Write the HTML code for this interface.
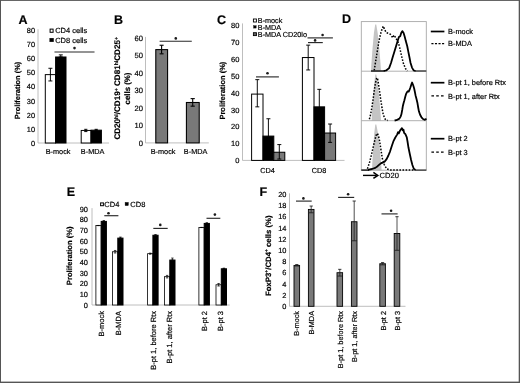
<!DOCTYPE html>
<html><head><meta charset="utf-8"><title>Figure</title>
<style>
html,body{margin:0;padding:0;background:#fff;}
body{width:520px;height:383px;overflow:hidden;font-family:"Liberation Sans", sans-serif;}
svg{display:block;font-family:"Liberation Sans", sans-serif;text-rendering:geometricPrecision;}
text{stroke:#000;stroke-width:0.18px;fill:#000;}
</style></head><body>
<svg width="520" height="383" viewBox="0 0 520 383">
<defs><filter id="soft" x="0" y="0" width="520" height="383" filterUnits="userSpaceOnUse"><feGaussianBlur stdDeviation="0.4"/></filter></defs>
<rect x="0" y="0" width="520" height="383" fill="#fff"/>
<g filter="url(#soft)">
<text x="22.9" y="23.98" font-size="12.5" text-anchor="middle" font-weight="bold" fill="#000">A</text>
<line x1="38" y1="29.200000000000003" x2="38" y2="143" stroke="#adadad" stroke-width="0.8" />
<line x1="38" y1="143" x2="109" y2="143" stroke="#adadad" stroke-width="0.8" />
<text x="35.0" y="145.85" font-size="7.4" text-anchor="end" fill="#111">0</text>
<text x="35.0" y="131.75" font-size="7.4" text-anchor="end" fill="#111">10</text>
<text x="35.0" y="117.65" font-size="7.4" text-anchor="end" fill="#111">20</text>
<text x="35.0" y="103.55" font-size="7.4" text-anchor="end" fill="#111">30</text>
<text x="35.0" y="89.45" font-size="7.4" text-anchor="end" fill="#111">40</text>
<text x="35.0" y="75.35" font-size="7.4" text-anchor="end" fill="#111">50</text>
<text x="35.0" y="61.25" font-size="7.4" text-anchor="end" fill="#111">60</text>
<text x="35.0" y="47.15" font-size="7.4" text-anchor="end" fill="#111">70</text>
<text x="35.0" y="33.05" font-size="7.4" text-anchor="end" fill="#111">80</text>
<text x="20.47" y="90.5" font-size="7.45" text-anchor="middle" font-weight="bold" transform="rotate(-90 20.47 90.5)" fill="#000">Proliferation (%)</text>
<rect x="50.1" y="29.1" width="3" height="3.2" fill="#fff" stroke="#000" stroke-width="1"/>
<text x="55.2" y="33.38" font-size="7.5" text-anchor="start" fill="#111">CD4 cells</text>
<rect x="49.8" y="38.2" width="3.8" height="3.6" fill="#000" stroke="#000" stroke-width="0.4"/>
<text x="55.2" y="42.59" font-size="7.5" text-anchor="start" fill="#111">CD8 cells</text>
<line x1="54.5" y1="52.0" x2="94.5" y2="52.0" stroke="#2a2a2a" stroke-width="1.15" />
<circle cx="74.5" cy="48.1" r="1.3" fill="#1a1a1a"/>
<rect x="45.3" y="74.61" width="10.3" height="68.39" fill="#fff" stroke="#000" stroke-width="1.0"/>
<line x1="50.4" y1="68.27000000000001" x2="50.4" y2="80.96000000000001" stroke="#000" stroke-width="0.95" />
<line x1="48.4" y1="68.27000000000001" x2="52.4" y2="68.27000000000001" stroke="#000" stroke-width="0.95" />
<line x1="48.4" y1="80.96000000000001" x2="52.4" y2="80.96000000000001" stroke="#000" stroke-width="0.95" />
<rect x="55.6" y="56.99" width="10.4" height="86.01" fill="#000" stroke="#000" stroke-width="1.0"/>
<line x1="60.8" y1="54.875" x2="60.8" y2="56.989999999999995" stroke="#000" stroke-width="0.95" />
<line x1="58.8" y1="54.875" x2="62.8" y2="54.875" stroke="#000" stroke-width="0.95" />
<line x1="58.8" y1="56.989999999999995" x2="62.8" y2="56.989999999999995" stroke="#000" stroke-width="0.95" />
<rect x="81.2" y="130.45" width="9.8" height="12.55" fill="#fff" stroke="#000" stroke-width="1.0"/>
<line x1="85.8" y1="129.323" x2="85.8" y2="131.579" stroke="#000" stroke-width="0.95" />
<line x1="84.2" y1="129.323" x2="87.39999999999999" y2="129.323" stroke="#000" stroke-width="0.95" />
<line x1="84.2" y1="131.579" x2="87.39999999999999" y2="131.579" stroke="#000" stroke-width="0.95" />
<rect x="91" y="130.17" width="10.4" height="12.83" fill="#000" stroke="#000" stroke-width="1.0"/>
<line x1="96.2" y1="129.323" x2="96.2" y2="130.31" stroke="#000" stroke-width="0.95" />
<line x1="94.60000000000001" y1="129.323" x2="97.8" y2="129.323" stroke="#000" stroke-width="0.95" />
<line x1="94.60000000000001" y1="130.31" x2="97.8" y2="130.31" stroke="#000" stroke-width="0.95" />
<text x="58.1" y="154.31" font-size="7.3" text-anchor="middle" fill="#111">B-mock</text>
<text x="92.6" y="154.31" font-size="7.3" text-anchor="middle" fill="#111">B-MDA</text>
<text x="118.4" y="23.58" font-size="12.5" text-anchor="middle" font-weight="bold" fill="#000">B</text>
<line x1="145.5" y1="36.900000000000006" x2="145.5" y2="142.9" stroke="#adadad" stroke-width="0.8" />
<line x1="145.5" y1="142.9" x2="208.8" y2="142.9" stroke="#adadad" stroke-width="0.8" />
<text x="142.9" y="145.62" font-size="7.6" text-anchor="end" fill="#111">0</text>
<text x="142.9" y="128.12" font-size="7.6" text-anchor="end" fill="#111">10</text>
<text x="142.9" y="110.62" font-size="7.6" text-anchor="end" fill="#111">20</text>
<text x="142.9" y="93.12" font-size="7.6" text-anchor="end" fill="#111">30</text>
<text x="142.9" y="75.62" font-size="7.6" text-anchor="end" fill="#111">40</text>
<text x="142.9" y="58.12" font-size="7.6" text-anchor="end" fill="#111">50</text>
<text x="142.9" y="40.62" font-size="7.6" text-anchor="end" fill="#111">60</text>
<text x="120.3" y="88.3" font-size="8.1" text-anchor="middle" font-weight="bold" transform="rotate(-90 120.3 88.3)" fill="#000">CD20<tspan font-size="5.2" dy="-2.8">hi</tspan><tspan dy="2.8" font-size="8.1">/CD19</tspan><tspan font-size="5.2" dy="-2.8">+</tspan><tspan dy="2.8" font-size="8.1"> CD81</tspan><tspan font-size="5.2" dy="-2.8">hi</tspan><tspan dy="2.8" font-size="8.1">CD25</tspan><tspan font-size="5.2" dy="-2.8">+</tspan></text>
<text x="130.23" y="88.5" font-size="7.9" text-anchor="middle" font-weight="bold" transform="rotate(-90 130.23 88.5)" fill="#000">cells (%)</text>
<rect x="155.8" y="49.62" width="11.8" height="93.28" fill="#797979" stroke="#000" stroke-width="1.05"/>
<line x1="161.6" y1="45.25" x2="161.6" y2="53.825" stroke="#000" stroke-width="1.1" />
<line x1="159.6" y1="45.25" x2="163.6" y2="45.25" stroke="#000" stroke-width="1.1" />
<line x1="159.6" y1="53.825" x2="163.6" y2="53.825" stroke="#000" stroke-width="1.1" />
<rect x="186.4" y="102.48" width="12.8" height="40.42" fill="#797979" stroke="#000" stroke-width="1.05"/>
<line x1="192.7" y1="98.625" x2="192.7" y2="106.15" stroke="#000" stroke-width="1.1" />
<line x1="190.6" y1="98.625" x2="194.79999999999998" y2="98.625" stroke="#000" stroke-width="1.1" />
<line x1="190.6" y1="106.15" x2="194.79999999999998" y2="106.15" stroke="#000" stroke-width="1.1" />
<line x1="159.6" y1="41.2" x2="191.8" y2="41.2" stroke="#2a2a2a" stroke-width="1.15" />
<circle cx="175.8" cy="38.4" r="1.3" fill="#1a1a1a"/>
<text x="163.1" y="153.91" font-size="7.3" text-anchor="middle" fill="#111">B-mock</text>
<text x="195.6" y="153.91" font-size="7.3" text-anchor="middle" fill="#111">B-MDA</text>
<text x="221.4" y="24.48" font-size="12.5" text-anchor="middle" font-weight="bold" fill="#000">C</text>
<line x1="242.5" y1="23.400000000000006" x2="242.5" y2="160.4" stroke="#adadad" stroke-width="0.8" />
<line x1="242.5" y1="160.4" x2="344.5" y2="160.4" stroke="#adadad" stroke-width="0.8" />
<text x="239.4" y="163.09" font-size="7.5" text-anchor="end" fill="#111">0</text>
<text x="239.4" y="146.24" font-size="7.5" text-anchor="end" fill="#111">10</text>
<text x="239.4" y="129.38" font-size="7.5" text-anchor="end" fill="#111">20</text>
<text x="239.4" y="112.53" font-size="7.5" text-anchor="end" fill="#111">30</text>
<text x="239.4" y="95.69" font-size="7.5" text-anchor="end" fill="#111">40</text>
<text x="239.4" y="78.84" font-size="7.5" text-anchor="end" fill="#111">50</text>
<text x="239.4" y="61.98" font-size="7.5" text-anchor="end" fill="#111">60</text>
<text x="239.4" y="45.13" font-size="7.5" text-anchor="end" fill="#111">70</text>
<text x="239.4" y="28.28" font-size="7.5" text-anchor="end" fill="#111">80</text>
<text x="225.38" y="90.6" font-size="7.5" text-anchor="middle" font-weight="bold" transform="rotate(-90 225.38 90.6)" fill="#000">Proliferation (%)</text>
<rect x="253.4" y="19.0" width="3" height="3" fill="#fff" stroke="#000" stroke-width="0.9"/>
<text x="257.8" y="23.1" font-size="7.25" text-anchor="start" fill="#111">B-mock</text>
<rect x="253.5" y="25.6" width="2.7" height="2.5" fill="#000" stroke="#000" stroke-width="0.3"/>
<text x="257.8" y="29.5" font-size="7.25" text-anchor="start" fill="#111">B-MDA</text>
<rect x="253.4" y="32.7" width="3" height="2.9" fill="#666" stroke="#000" stroke-width="0.9"/>
<text x="257.8" y="36.9" font-size="7.25" text-anchor="start" fill="#111">B-MDA CD20lo</text>
<rect x="251.6" y="94.1" width="11.4" height="66.3" fill="#fff" stroke="#000" stroke-width="1.0"/>
<line x1="257.3" y1="79.65" x2="257.3" y2="106.85000000000001" stroke="#000" stroke-width="0.95" />
<line x1="255.3" y1="79.65" x2="259.3" y2="79.65" stroke="#000" stroke-width="0.95" />
<line x1="255.3" y1="106.85000000000001" x2="259.3" y2="106.85000000000001" stroke="#000" stroke-width="0.95" />
<rect x="263" y="136.09" width="10.8" height="24.31" fill="#000" stroke="#000" stroke-width="1.0"/>
<line x1="268.4" y1="118.75" x2="268.4" y2="152.75" stroke="#000" stroke-width="0.95" />
<line x1="266.4" y1="118.75" x2="270.4" y2="118.75" stroke="#000" stroke-width="0.95" />
<line x1="266.4" y1="152.75" x2="270.4" y2="152.75" stroke="#000" stroke-width="0.95" />
<rect x="273.8" y="152.24" width="11.0" height="8.16" fill="#797979" stroke="#000" stroke-width="1.0"/>
<line x1="279.3" y1="144.59" x2="279.3" y2="159.04" stroke="#000" stroke-width="0.95" />
<line x1="277.3" y1="144.59" x2="281.3" y2="144.59" stroke="#000" stroke-width="0.95" />
<line x1="277.3" y1="159.04" x2="281.3" y2="159.04" stroke="#000" stroke-width="0.95" />
<rect x="302.4" y="57.55" width="11.6" height="102.85" fill="#fff" stroke="#000" stroke-width="1.0"/>
<line x1="308.2" y1="45.140000000000015" x2="308.2" y2="69.96" stroke="#000" stroke-width="0.95" />
<line x1="306.2" y1="45.140000000000015" x2="310.2" y2="45.140000000000015" stroke="#000" stroke-width="0.95" />
<line x1="306.2" y1="69.96" x2="310.2" y2="69.96" stroke="#000" stroke-width="0.95" />
<rect x="314" y="106.85" width="10.6" height="53.55" fill="#000" stroke="#000" stroke-width="1.0"/>
<line x1="319.3" y1="89.34000000000002" x2="319.3" y2="123.85000000000001" stroke="#000" stroke-width="0.95" />
<line x1="317.3" y1="89.34000000000002" x2="321.3" y2="89.34000000000002" stroke="#000" stroke-width="0.95" />
<line x1="317.3" y1="123.85000000000001" x2="321.3" y2="123.85000000000001" stroke="#000" stroke-width="0.95" />
<rect x="324.6" y="133.03" width="11.0" height="27.37" fill="#797979" stroke="#000" stroke-width="1.0"/>
<line x1="330.1" y1="124.02000000000001" x2="330.1" y2="142.38" stroke="#000" stroke-width="0.95" />
<line x1="328.1" y1="124.02000000000001" x2="332.1" y2="124.02000000000001" stroke="#000" stroke-width="0.95" />
<line x1="328.1" y1="142.38" x2="332.1" y2="142.38" stroke="#000" stroke-width="0.95" />
<line x1="256.0" y1="76.9" x2="278.9" y2="76.9" stroke="#2a2a2a" stroke-width="1.15" />
<circle cx="267.5" cy="73.2" r="1.3" fill="#1a1a1a"/>
<line x1="307.5" y1="37.9" x2="332.9" y2="37.9" stroke="#2a2a2a" stroke-width="1.15" />
<circle cx="322.6" cy="35.0" r="1.3" fill="#1a1a1a"/>
<line x1="308.0" y1="42.6" x2="322.8" y2="42.6" stroke="#2a2a2a" stroke-width="1.15" />
<circle cx="315.1" cy="40.4" r="1.3" fill="#1a1a1a"/>
<text x="267.6" y="172.91" font-size="7.3" text-anchor="middle" fill="#111">CD4</text>
<text x="319.0" y="172.91" font-size="7.3" text-anchor="middle" fill="#111">CD8</text>
<text x="346.6" y="23.38" font-size="12.5" text-anchor="middle" font-weight="bold" fill="#000">D</text>
<polygon points="371.0,71.2 371.38,64.21 372.5,48.83 373.91,32.99 375.23,24.6 376.23,24.6 377.71,32.99 379.3,48.83 380.58,64.21 381.0,71.2" fill="#c4c4c4"/>
<polygon points="371.6,120.7 371.94,113.78 372.94,98.57 374.2,82.9 375.38,74.6 376.32,74.6 377.78,82.9 379.34,98.57 380.58,113.78 381.0,120.7" fill="#c4c4c4"/>
<polygon points="372.0,170.2 372.3,163.36 373.18,148.31 374.29,132.81 375.33,124.6 376.29,124.6 377.94,132.81 379.71,148.31 381.13,163.36 381.6,170.2" fill="#c4c4c4"/>
<rect x="361.3" y="21.6" width="65.0" height="148.6" fill="none" stroke="#a8a8a8" stroke-width="0.9"/>
<line x1="361.3" y1="71.2" x2="426.3" y2="71.2" stroke="#a8a8a8" stroke-width="0.9" />
<line x1="361.3" y1="120.7" x2="426.3" y2="120.7" stroke="#a8a8a8" stroke-width="0.9" />
<path d="M374.2 70.4 L375.7 61.1 L377.3 51.1 L379.1 40.3 L381.1 31.9 L382.5 28 L383.3 26.2 L384.9 30.2 L386.3 32.6 L388.3 33.3 L390.3 34.2 L391.6 36 L392.7 37.8 L393.6 36 L394.4 35.2 L395.2 37 L395.8 38.6 L397.4 40.2 L399.4 46.3 L401.4 55.3 L403.4 63.4 L405.4 68.4 L407.4 71" fill="none" stroke="#000" stroke-width="1.5" stroke-linejoin="round" stroke-dasharray="1.6 1.5"/>
<line x1="371" y1="71" x2="384.5" y2="71" stroke="#1e1e1e" stroke-width="1.5" />
<line x1="414.8" y1="71" x2="426.3" y2="71" stroke="#333" stroke-width="1.3" />
<path d="M383.7 71 L386.5 70.3 L389.1 68.1 L391 63 L392.6 57.5 L394.6 51 L396.5 44.8 L397.8 40.6 L398.9 37 L400.2 36.2 L401.2 33 L402.3 31.1 L403.6 33 L404.8 37 L405.8 41.1 L407.2 46 L408.2 51.1 L409.4 57 L410.5 62.7 L412 67.6 L413.6 70.4 L415.5 71" fill="none" stroke="#000" stroke-width="1.8" stroke-linejoin="round"/>
<path d="M369.4 119.2 L370.6 114.5 L371.8 108 L373 100 L374.2 91 L375.4 83.5 L376.4 79 L376.9 77.8 L377.6 79 L378.5 84 L379.6 91.5 L380.8 100 L382 108 L383.2 114 L384.6 118.4 L386.2 120.2 L387.6 120.4" fill="none" stroke="#000" stroke-width="1.5" stroke-linejoin="round" stroke-dasharray="1.6 1.5"/>
<path d="M394.6 120.5 L396.4 120.2 L399.4 118.6 L400.6 116.6 L401.4 114.3 L402.2 110 L402.8 106.3 L403.6 103 L404.4 100.2 L405.2 97 L406 94.2 L407 92.2 L408 91.2 L408.7 91.6 L409.4 90.2 L410.2 88 L410.8 86.2 L411.5 84 L412.1 82.5 L413.1 85 L414.1 88.2 L414.8 91.5 L415.5 95.2 L416.5 99 L417.5 103.3 L418.2 107.5 L418.9 111.3 L420.1 114.8 L421.5 117.3 L423 119 L424.5 119.8 L425.6 119.4 L426.3 118.4" fill="none" stroke="#000" stroke-width="1.8" stroke-linejoin="round"/>
<path d="M367.4 168.8 L369.4 163 L371.4 155 L373.2 147 L375 139.5 L376.4 134.6 L377.4 133.4 L378.5 136 L379.6 141 L381 150 L382.3 158.3 L384.2 164.5 L386.6 168.8 L390 170 L414 170" fill="none" stroke="#000" stroke-width="1.5" stroke-linejoin="round" stroke-dasharray="1.6 1.5"/>
<line x1="361.3" y1="170.1" x2="369" y2="170.1" stroke="#1e1e1e" stroke-width="1.5" />
<line x1="415" y1="170.1" x2="426.3" y2="170.1" stroke="#333" stroke-width="1.3" />
<path d="M368 169.9 L372 169 L375.3 167.9 L377.6 166.2 L379.6 164.4 L381.4 163 L383.1 162.6 L384.8 161.4 L386.6 159.1 L388.4 155.5 L390.1 151.3 L391.8 146 L393.6 140.8 L395.3 137.5 L397.1 134.6 L398 132.2 L398.8 133.4 L399.8 131.1 L400.8 129.5 L401.9 128.2 L402.8 130.4 L403.5 129.6 L404.1 132.9 L405.4 134.2 L406.8 137.3 L407.6 142 L408.5 147.8 L409.8 154 L411.1 160 L412.4 165 L413.8 168.8 L415.5 170" fill="none" stroke="#000" stroke-width="1.8" stroke-linejoin="round"/>
<line x1="430.8" y1="31.5" x2="444.4" y2="31.5" stroke="#000" stroke-width="1.7" />
<text x="448" y="34.15" font-size="7.4" text-anchor="start" fill="#111">B-mock</text>
<line x1="431.4" y1="43.7" x2="444.4" y2="43.7" stroke="#000" stroke-width="1.3" stroke-dasharray="2.1 1.45"/>
<text x="448" y="46.35" font-size="7.4" text-anchor="start" fill="#111">B-MDA</text>
<line x1="430.8" y1="82.7" x2="444.4" y2="82.7" stroke="#000" stroke-width="1.7" />
<text x="448" y="85.35" font-size="7.4" text-anchor="start" fill="#111">B-pt 1, before Rtx</text>
<line x1="431.4" y1="95.9" x2="444.4" y2="95.9" stroke="#000" stroke-width="1.3" stroke-dasharray="2.6 2.2"/>
<text x="448" y="98.55" font-size="7.4" text-anchor="start" fill="#111">B-pt 1, after Rtx</text>
<line x1="430.8" y1="138.7" x2="444.4" y2="138.7" stroke="#000" stroke-width="1.7" />
<text x="448" y="141.35" font-size="7.4" text-anchor="start" fill="#111">B-pt 2</text>
<line x1="431.4" y1="152.1" x2="444.4" y2="152.1" stroke="#000" stroke-width="1.3" stroke-dasharray="2.6 2.2"/>
<text x="448" y="154.75" font-size="7.4" text-anchor="start" fill="#111">B-pt 3</text>
<line x1="363" y1="175.4" x2="376.4" y2="175.4" stroke="#000" stroke-width="1.4" />
<path d="M373.4 172.4 L377.8 175.4 L373.4 178.4" fill="none" stroke="#000" stroke-width="1.5"/>
<text x="379.6" y="178.4" font-size="7.55" text-anchor="start" fill="#111">CD20</text>
<text x="71" y="196.38" font-size="12.5" text-anchor="middle" font-weight="bold" fill="#000">E</text>
<line x1="92" y1="208.14999999999998" x2="92" y2="305" stroke="#adadad" stroke-width="0.8" />
<line x1="92" y1="305" x2="229.7" y2="305" stroke="#adadad" stroke-width="0.8" />
<text x="87.9" y="307.65" font-size="7.4" text-anchor="end" fill="#111">0</text>
<text x="87.9" y="297.0" font-size="7.4" text-anchor="end" fill="#111">10</text>
<text x="87.9" y="286.35" font-size="7.4" text-anchor="end" fill="#111">20</text>
<text x="87.9" y="275.7" font-size="7.4" text-anchor="end" fill="#111">30</text>
<text x="87.9" y="265.05" font-size="7.4" text-anchor="end" fill="#111">40</text>
<text x="87.9" y="254.4" font-size="7.4" text-anchor="end" fill="#111">50</text>
<text x="87.9" y="243.75" font-size="7.4" text-anchor="end" fill="#111">60</text>
<text x="87.9" y="233.1" font-size="7.4" text-anchor="end" fill="#111">70</text>
<text x="87.9" y="222.45" font-size="7.4" text-anchor="end" fill="#111">80</text>
<text x="87.9" y="211.8" font-size="7.4" text-anchor="end" fill="#111">90</text>
<text x="72.12" y="255.8" font-size="7.6" text-anchor="middle" font-weight="bold" transform="rotate(-90 72.12 255.8)" fill="#000">Proliferation (%)</text>
<rect x="100.6" y="202.9" width="2.8" height="2.8" fill="#fff" stroke="#000" stroke-width="1"/>
<text x="104.3" y="207.38" font-size="7.5" text-anchor="start" fill="#111">CD4</text>
<rect x="125.1" y="202.4" width="3.2" height="3.2" fill="#000" stroke="#000" stroke-width="0.4"/>
<text x="130.3" y="207.38" font-size="7.5" text-anchor="start" fill="#111">CD8</text>
<rect x="95.9" y="225.55" width="5.3" height="79.45" fill="#fff" stroke="#000" stroke-width="0.8"/>
<line x1="98.5" y1="225.4445" x2="98.5" y2="225.6575" stroke="#000" stroke-width="0.7" />
<line x1="97.3" y1="225.4445" x2="99.7" y2="225.4445" stroke="#000" stroke-width="0.7" />
<line x1="97.3" y1="225.6575" x2="99.7" y2="225.6575" stroke="#000" stroke-width="0.7" />
<rect x="101.2" y="221.4" width="5.2" height="83.6" fill="#000" stroke="#000" stroke-width="1.0"/>
<line x1="103.8" y1="220.5455" x2="103.8" y2="221.3975" stroke="#000" stroke-width="0.7" />
<line x1="102.6" y1="220.5455" x2="105.0" y2="220.5455" stroke="#000" stroke-width="0.7" />
<line x1="102.6" y1="221.3975" x2="105.0" y2="221.3975" stroke="#000" stroke-width="0.7" />
<rect x="112.5" y="251.75" width="5.3" height="53.25" fill="#fff" stroke="#000" stroke-width="0.8"/>
<line x1="115.10000000000001" y1="250.47199999999998" x2="115.10000000000001" y2="253.028" stroke="#000" stroke-width="0.7" />
<line x1="113.9" y1="250.47199999999998" x2="116.30000000000001" y2="250.47199999999998" stroke="#000" stroke-width="0.7" />
<line x1="113.9" y1="253.028" x2="116.30000000000001" y2="253.028" stroke="#000" stroke-width="0.7" />
<rect x="117.8" y="238.12" width="5.2" height="66.88" fill="#000" stroke="#000" stroke-width="1.0"/>
<line x1="120.4" y1="237.053" x2="120.4" y2="238.118" stroke="#000" stroke-width="0.7" />
<line x1="119.2" y1="237.053" x2="121.60000000000001" y2="237.053" stroke="#000" stroke-width="0.7" />
<line x1="119.2" y1="238.118" x2="121.60000000000001" y2="238.118" stroke="#000" stroke-width="0.7" />
<rect x="147.6" y="253.67" width="5.3" height="51.33" fill="#fff" stroke="#000" stroke-width="0.8"/>
<line x1="150.2" y1="253.1345" x2="150.2" y2="254.1995" stroke="#000" stroke-width="0.7" />
<line x1="149.0" y1="253.1345" x2="151.39999999999998" y2="253.1345" stroke="#000" stroke-width="0.7" />
<line x1="149.0" y1="254.1995" x2="151.39999999999998" y2="254.1995" stroke="#000" stroke-width="0.7" />
<rect x="152.9" y="235.24" width="5.2" height="69.76" fill="#000" stroke="#000" stroke-width="1.0"/>
<line x1="155.5" y1="234.6035" x2="155.5" y2="235.2425" stroke="#000" stroke-width="0.7" />
<line x1="154.3" y1="234.6035" x2="156.7" y2="234.6035" stroke="#000" stroke-width="0.7" />
<line x1="154.3" y1="235.2425" x2="156.7" y2="235.2425" stroke="#000" stroke-width="0.7" />
<rect x="164.5" y="276.67" width="5.3" height="28.33" fill="#fff" stroke="#000" stroke-width="0.8"/>
<line x1="167.1" y1="275.39300000000003" x2="167.1" y2="277.949" stroke="#000" stroke-width="0.7" />
<line x1="165.9" y1="275.39300000000003" x2="168.29999999999998" y2="275.39300000000003" stroke="#000" stroke-width="0.7" />
<line x1="165.9" y1="277.949" x2="168.29999999999998" y2="277.949" stroke="#000" stroke-width="0.7" />
<rect x="169.8" y="260.06" width="5.2" height="44.94" fill="#000" stroke="#000" stroke-width="1.0"/>
<line x1="172.4" y1="258.0335" x2="172.4" y2="260.057" stroke="#000" stroke-width="0.7" />
<line x1="171.20000000000002" y1="258.0335" x2="173.6" y2="258.0335" stroke="#000" stroke-width="0.7" />
<line x1="171.20000000000002" y1="260.057" x2="173.6" y2="260.057" stroke="#000" stroke-width="0.7" />
<rect x="198.9" y="227.47" width="5.3" height="77.53" fill="#fff" stroke="#000" stroke-width="0.8"/>
<line x1="201.5" y1="227.3615" x2="201.5" y2="227.5745" stroke="#000" stroke-width="0.7" />
<line x1="200.3" y1="227.3615" x2="202.7" y2="227.3615" stroke="#000" stroke-width="0.7" />
<line x1="200.3" y1="227.5745" x2="202.7" y2="227.5745" stroke="#000" stroke-width="0.7" />
<rect x="204.2" y="223.42" width="5.2" height="81.58" fill="#000" stroke="#000" stroke-width="1.0"/>
<line x1="206.8" y1="222.6755" x2="206.8" y2="223.421" stroke="#000" stroke-width="0.7" />
<line x1="205.60000000000002" y1="222.6755" x2="208.0" y2="222.6755" stroke="#000" stroke-width="0.7" />
<line x1="205.60000000000002" y1="223.421" x2="208.0" y2="223.421" stroke="#000" stroke-width="0.7" />
<rect x="216.0" y="284.76" width="5.3" height="20.24" fill="#fff" stroke="#000" stroke-width="0.8"/>
<line x1="218.6" y1="283.487" x2="218.6" y2="286.043" stroke="#000" stroke-width="0.7" />
<line x1="217.4" y1="283.487" x2="219.79999999999998" y2="283.487" stroke="#000" stroke-width="0.7" />
<line x1="217.4" y1="286.043" x2="219.79999999999998" y2="286.043" stroke="#000" stroke-width="0.7" />
<rect x="221.3" y="268.79" width="5.2" height="36.21" fill="#000" stroke="#000" stroke-width="1.0"/>
<line x1="223.9" y1="268.151" x2="223.9" y2="268.79" stroke="#000" stroke-width="0.7" />
<line x1="222.70000000000002" y1="268.151" x2="225.1" y2="268.151" stroke="#000" stroke-width="0.7" />
<line x1="222.70000000000002" y1="268.79" x2="225.1" y2="268.79" stroke="#000" stroke-width="0.7" />
<line x1="104.3" y1="215.7" x2="118.4" y2="215.7" stroke="#2a2a2a" stroke-width="1.15" />
<circle cx="108.5" cy="213.2" r="1.3" fill="#1a1a1a"/>
<line x1="153.3" y1="228.4" x2="167.7" y2="228.4" stroke="#2a2a2a" stroke-width="1.15" />
<circle cx="160.3" cy="224.9" r="1.3" fill="#1a1a1a"/>
<line x1="206.5" y1="218.3" x2="220.3" y2="218.3" stroke="#2a2a2a" stroke-width="1.15" />
<circle cx="214.9" cy="214.6" r="1.3" fill="#1a1a1a"/>
<text x="103.59" y="311" font-size="7.5" text-anchor="end" transform="rotate(-90 103.59 311)" fill="#111">B-mock</text>
<text x="121.39" y="311" font-size="7.5" text-anchor="end" transform="rotate(-90 121.39 311)" fill="#111">B-MDA</text>
<text x="155.88" y="311" font-size="7.5" text-anchor="end" transform="rotate(-90 155.88 311)" fill="#111">B-pt 1, before Rtx</text>
<text x="172.28" y="311" font-size="7.5" text-anchor="end" transform="rotate(-90 172.28 311)" fill="#111">B-pt 1, after Rtx</text>
<text x="206.69" y="311" font-size="7.5" text-anchor="end" transform="rotate(-90 206.69 311)" fill="#111">B-pt 2</text>
<text x="223.28" y="311" font-size="7.5" text-anchor="end" transform="rotate(-90 223.28 311)" fill="#111">B-pt 3</text>
<text x="263.3" y="196.38" font-size="12.5" text-anchor="middle" font-weight="bold" fill="#000">F</text>
<line x1="289.5" y1="193.3" x2="289.5" y2="306.3" stroke="#adadad" stroke-width="0.8" />
<line x1="289.5" y1="306.3" x2="405.5" y2="306.3" stroke="#adadad" stroke-width="0.8" />
<text x="286.4" y="308.95" font-size="7.4" text-anchor="end" fill="#111">0</text>
<text x="286.4" y="297.75" font-size="7.4" text-anchor="end" fill="#111">2</text>
<text x="286.4" y="286.55" font-size="7.4" text-anchor="end" fill="#111">4</text>
<text x="286.4" y="275.35" font-size="7.4" text-anchor="end" fill="#111">6</text>
<text x="286.4" y="264.15" font-size="7.4" text-anchor="end" fill="#111">8</text>
<text x="286.4" y="252.95" font-size="7.4" text-anchor="end" fill="#111">10</text>
<text x="286.4" y="241.75" font-size="7.4" text-anchor="end" fill="#111">12</text>
<text x="286.4" y="230.55" font-size="7.4" text-anchor="end" fill="#111">14</text>
<text x="286.4" y="219.35" font-size="7.4" text-anchor="end" fill="#111">16</text>
<text x="286.4" y="208.15" font-size="7.4" text-anchor="end" fill="#111">18</text>
<text x="286.4" y="196.95" font-size="7.4" text-anchor="end" fill="#111">20</text>
<text x="270.97" y="255.7" font-size="7.75" text-anchor="middle" font-weight="bold" transform="rotate(-90 270.97 255.7)" fill="#000">FoxP3<tspan font-size="5" dy="-2.7">+</tspan><tspan dy="2.7" font-size="7.75">/CD4</tspan><tspan font-size="5" dy="-2.7">+</tspan><tspan dy="2.7" font-size="7.75"> cells (%)</tspan></text>
<rect x="294.0" y="265.42" width="5.6" height="40.88" fill="#797979" stroke="#000" stroke-width="0.9"/>
<line x1="296.8" y1="264.58000000000004" x2="296.8" y2="265.98" stroke="#222" stroke-width="0.8" />
<line x1="295.2" y1="264.58000000000004" x2="298.40000000000003" y2="264.58000000000004" stroke="#222" stroke-width="0.9" />
<line x1="294.1" y1="265.98" x2="299.5" y2="265.98" stroke="#222" stroke-width="0.9" />
<rect x="308.4" y="209.42" width="5.6" height="96.88" fill="#797979" stroke="#000" stroke-width="0.9"/>
<line x1="311.2" y1="206.06000000000003" x2="311.2" y2="212.78000000000003" stroke="#222" stroke-width="0.8" />
<line x1="309.59999999999997" y1="206.06000000000003" x2="312.8" y2="206.06000000000003" stroke="#222" stroke-width="0.9" />
<line x1="308.5" y1="212.78000000000003" x2="313.9" y2="212.78000000000003" stroke="#222" stroke-width="0.9" />
<rect x="337.0" y="272.7" width="5.6" height="33.6" fill="#797979" stroke="#000" stroke-width="0.9"/>
<line x1="339.8" y1="269.34000000000003" x2="339.8" y2="276.06" stroke="#222" stroke-width="0.8" />
<line x1="338.2" y1="269.34000000000003" x2="341.40000000000003" y2="269.34000000000003" stroke="#222" stroke-width="0.9" />
<line x1="337.1" y1="276.06" x2="342.5" y2="276.06" stroke="#222" stroke-width="0.9" />
<rect x="351.4" y="221.74" width="5.6" height="84.56" fill="#797979" stroke="#000" stroke-width="0.9"/>
<line x1="354.2" y1="201.02" x2="354.2" y2="240.78000000000003" stroke="#222" stroke-width="0.8" />
<line x1="352.59999999999997" y1="201.02" x2="355.8" y2="201.02" stroke="#222" stroke-width="0.9" />
<line x1="351.5" y1="240.78000000000003" x2="356.9" y2="240.78000000000003" stroke="#222" stroke-width="0.9" />
<rect x="379.8" y="263.74" width="5.6" height="42.56" fill="#797979" stroke="#000" stroke-width="0.9"/>
<line x1="382.6" y1="262.62" x2="382.6" y2="264.86" stroke="#222" stroke-width="0.8" />
<line x1="381.0" y1="262.62" x2="384.20000000000005" y2="262.62" stroke="#222" stroke-width="0.9" />
<line x1="379.90000000000003" y1="264.86" x2="385.3" y2="264.86" stroke="#222" stroke-width="0.9" />
<rect x="394.2" y="233.5" width="5.6" height="72.8" fill="#797979" stroke="#000" stroke-width="0.9"/>
<line x1="397" y1="216.70000000000002" x2="397" y2="250.3" stroke="#222" stroke-width="0.8" />
<line x1="395.4" y1="216.70000000000002" x2="398.6" y2="216.70000000000002" stroke="#222" stroke-width="0.9" />
<line x1="394.3" y1="250.3" x2="399.7" y2="250.3" stroke="#222" stroke-width="0.9" />
<line x1="296.0" y1="201.1" x2="311.7" y2="201.1" stroke="#2a2a2a" stroke-width="1.15" />
<circle cx="303.4" cy="198.4" r="1.3" fill="#1a1a1a"/>
<line x1="338.1" y1="197.4" x2="354.2" y2="197.4" stroke="#2a2a2a" stroke-width="1.15" />
<circle cx="348.1" cy="194.3" r="1.3" fill="#1a1a1a"/>
<line x1="381.5" y1="213.9" x2="397.6" y2="213.9" stroke="#2a2a2a" stroke-width="1.15" />
<circle cx="391.1" cy="210.8" r="1.3" fill="#1a1a1a"/>
<text x="298.61" y="311" font-size="7.3" text-anchor="end" transform="rotate(-90 298.61 311)" fill="#111">B-mock</text>
<text x="313.91" y="311" font-size="7.3" text-anchor="end" transform="rotate(-90 313.91 311)" fill="#111">B-MDA</text>
<text x="342.71" y="311" font-size="7.3" text-anchor="end" transform="rotate(-90 342.71 311)" fill="#111">B-pt 1, before Rtx</text>
<text x="357.01" y="311" font-size="7.3" text-anchor="end" transform="rotate(-90 357.01 311)" fill="#111">B-pt 1, after Rtx</text>
<text x="385.81" y="311" font-size="7.3" text-anchor="end" transform="rotate(-90 385.81 311)" fill="#111">B-pt 2</text>
<text x="399.91" y="311" font-size="7.3" text-anchor="end" transform="rotate(-90 399.91 311)" fill="#111">B-pt 3</text>
</g>
<g fill="#555" filter="url(#soft)">
<rect x="-2" y="-2" width="524" height="2.9"/>
<rect x="-2" y="-2" width="3.0" height="387"/>
<rect x="518.7" y="-2" width="4" height="387"/>
<rect x="-2" y="381.6" width="524" height="4"/>
</g>
</svg>
</body></html>
